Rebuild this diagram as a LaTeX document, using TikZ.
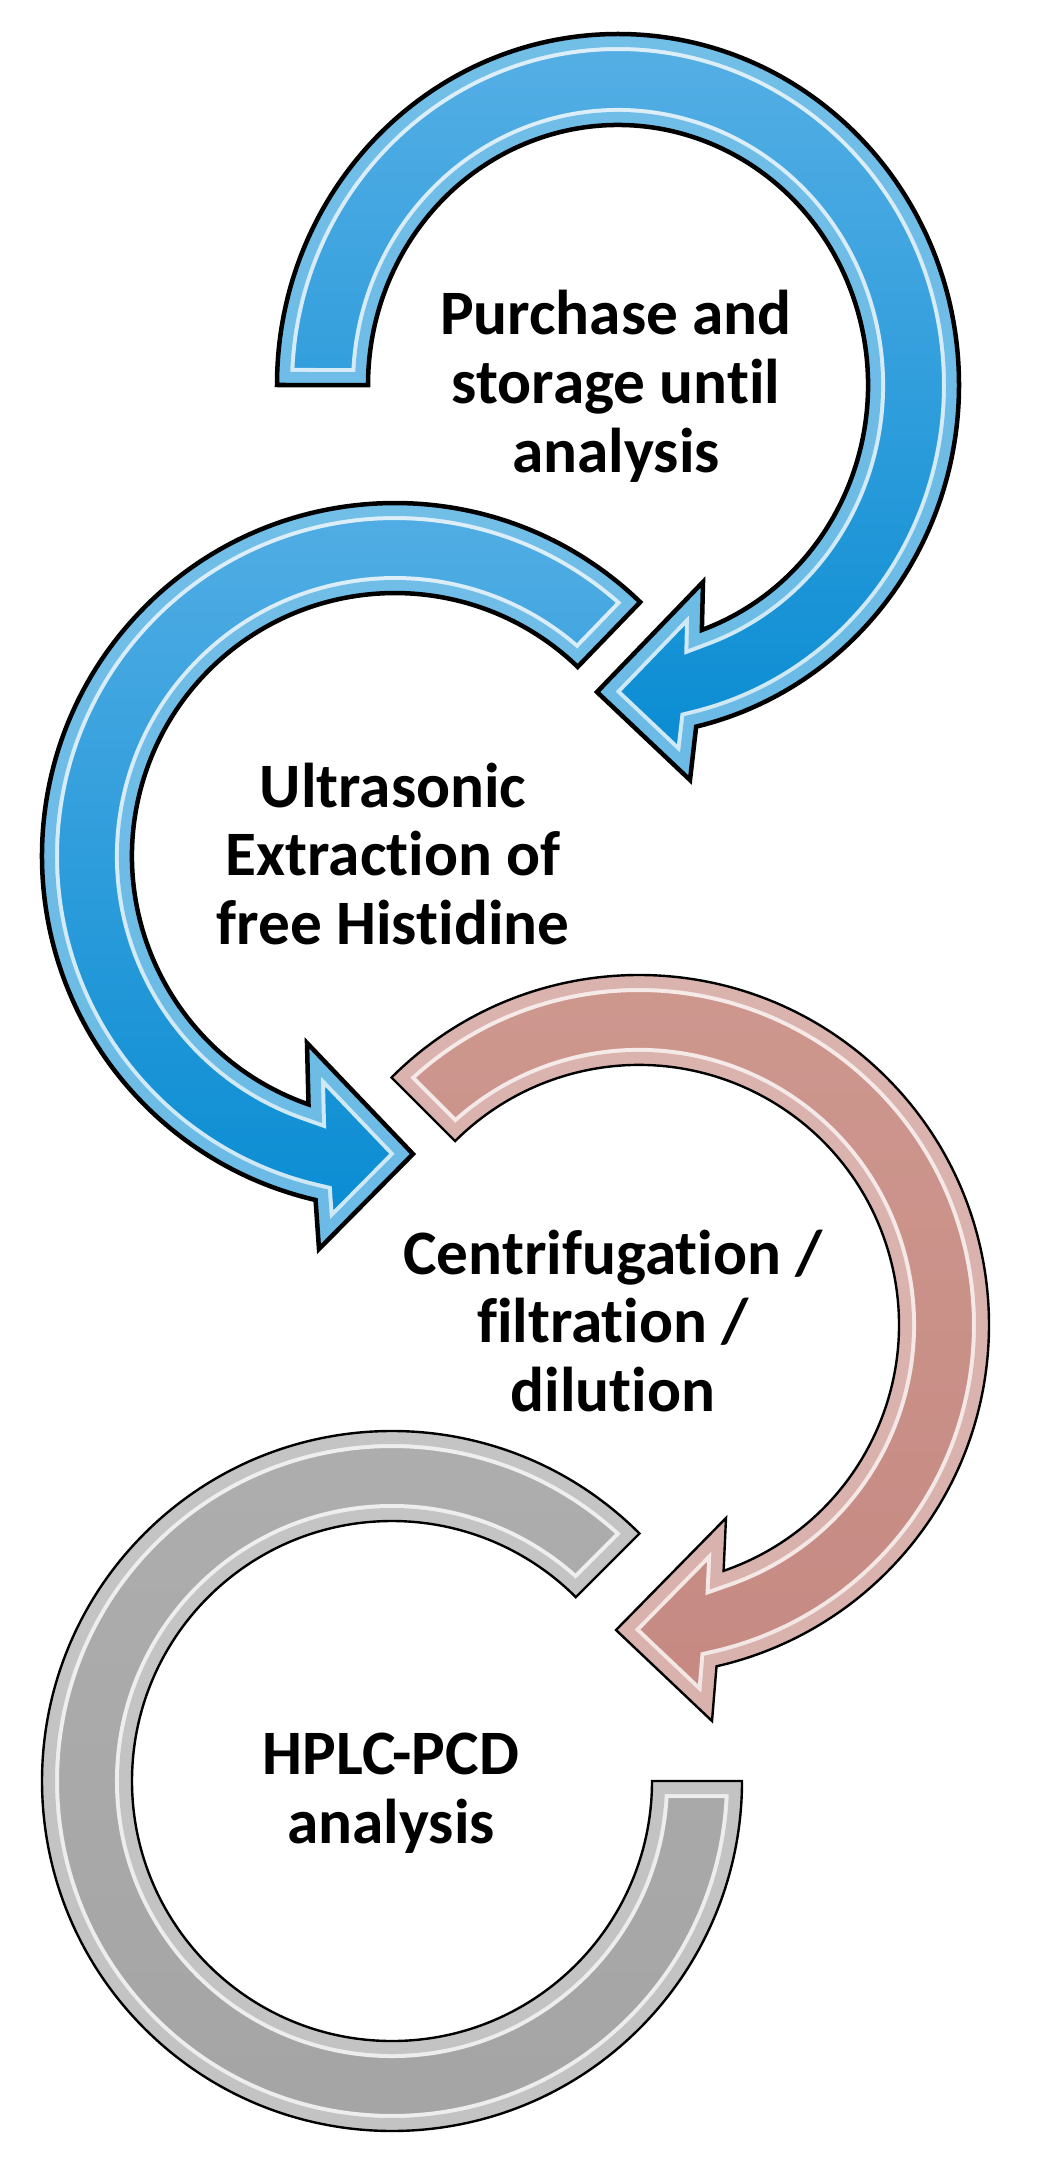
\documentclass[tikz,border=0pt]{standalone}
\usepackage{fontspec}
\setmainfont[Ligatures=NoCommon]{Carlito}
\definecolor{bluetop}{HTML}{56AFE5}
\definecolor{bluebot}{HTML}{078BD2}
\definecolor{bluemid}{HTML}{2A9EDC}
\definecolor{pinktop}{HTML}{CE988F}
\definecolor{pinkbot}{HTML}{C58982}
\definecolor{pinkmid}{HTML}{C98F88}
\definecolor{graytop}{HTML}{AEAEAE}
\definecolor{graybot}{HTML}{A4A4A4}
\definecolor{graymid}{HTML}{A8A8A8}
\begin{document}
\begin{tikzpicture}[x=0.01cm,y=-0.01cm,line join=miter,miter limit=10,
  txt/.style={font=\bfseries\fontsize{18pt}{19.6pt}\selectfont,align=center,inner sep=0pt,text=black},
  blueline/.style={draw=black,line width=0.045cm},
  softline/.style={draw=black,line width=0.024cm},
  shine/.style={draw=white,opacity=0.8,line width=0.34cm},
  reshade/.style={draw=#1,opacity=0.6,line width=0.26cm}]
\useasboundingbox (0,0) rectangle (1059,2182);
\fill[white] (0,0) rectangle (1059,2182);

\def\pA{(277,385) arc[start angle=180,end angle=436.75,x radius=341,y radius=351] -- (690,780) -- (597,692) -- (703,582) -- (701.87,629.95) arc[start angle=430.4,end angle=180,x radius=250,y radius=260] -- cycle}
\def\pB{(640.2,602.1) arc[start angle=314,end angle=103,radius=353] -- (319,1249) -- (413,1154) -- (307,1043) -- (308.5,1104.4) arc[start angle=109.2,end angle=314,radius=263] -- cycle}
\def\pC{(391.5,1077.5) arc[start angle=225,end angle=437.2,radius=350] -- (712,1721) -- (616,1630) -- (726,1518) -- (723.6,1570.8) arc[start angle=431,end angle=225,radius=260] -- cycle}
\def\pD{(639.5,1533.5) arc[start angle=315,end angle=0,radius=350] -- (652,1781) arc[start angle=0,end angle=315,radius=260] -- cycle}

% arrow 1 (blue, top)
\path[top color=bluetop,bottom color=bluebot] \pA;
\begin{scope}\clip \pA; \draw[shine] \pA; \draw[reshade=bluemid] \pA;\end{scope}
\draw[blueline] \pA;

% arrow 2 (blue, middle)
\path[top color=bluetop,bottom color=bluebot] \pB;
\begin{scope}\clip \pB; \draw[shine] \pB; \draw[reshade=bluemid] \pB;\end{scope}
\draw[blueline] \pB;

% arrow 3 (rose)
\path[top color=pinktop,bottom color=pinkbot] \pC;
\begin{scope}\clip \pC; \draw[shine] \pC; \draw[reshade=pinkmid] \pC;\end{scope}
\draw[softline] \pC;

% ring 4 (gray)
\path[top color=graytop,bottom color=graybot] \pD;
\begin{scope}\clip \pD; \draw[shine] \pD; \draw[reshade=graymid] \pD;\end{scope}
\draw[softline] \pD;

\node[txt] (t1) at (616,386) {Purchase and\\storage until\\analysis};
\node[txt] (t2) at (393,854) {Ultrasonic\\Extraction of\\free Histidine};
\node[txt] (t3) at (613,1321) {Centrifugation /\\filtration /\\dilution};
\node[txt] (t4) at (391,1793) {HPLC-PCD\\analysis};
\end{tikzpicture}
\end{document}
